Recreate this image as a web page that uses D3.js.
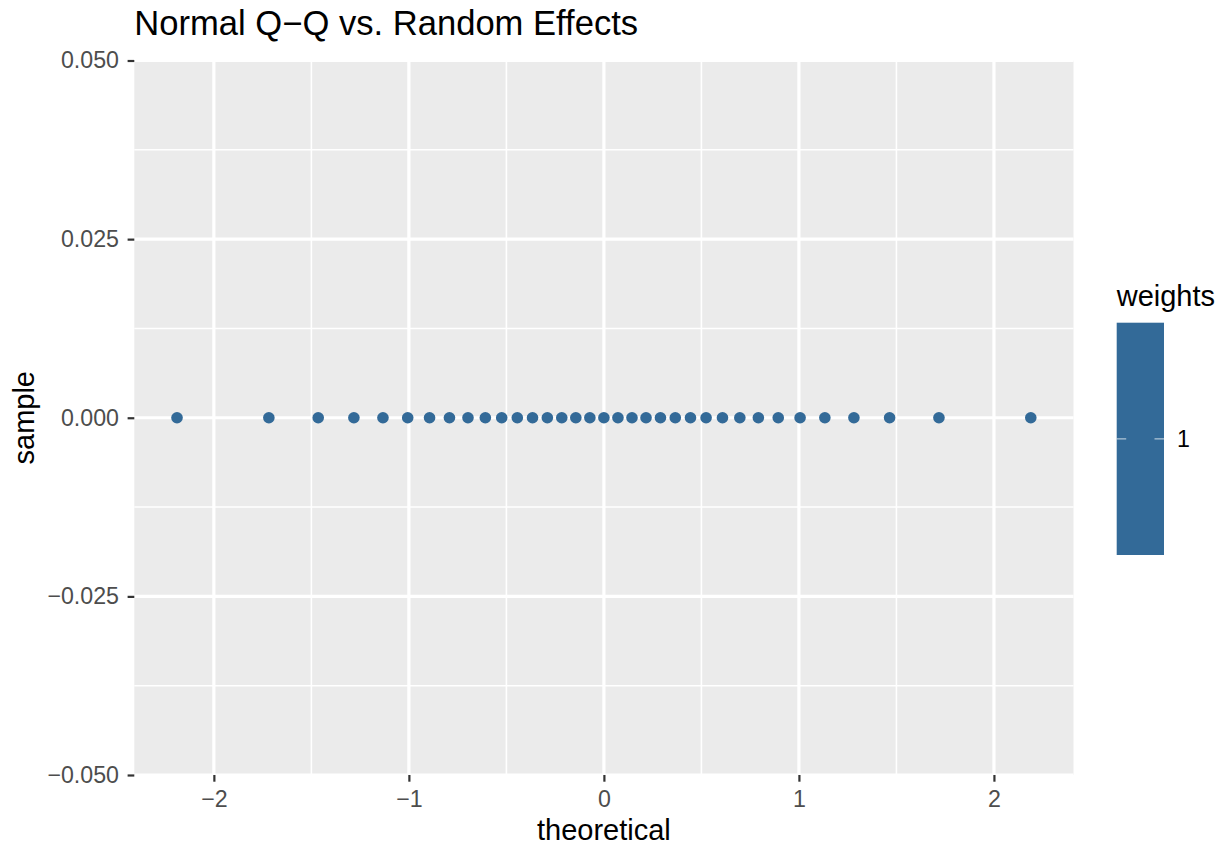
<!DOCTYPE html>
<html lang="en">
<head>
<meta charset="UTF-8">
<title>Normal Q-Q vs. Random Effects</title>
<script src="https://d3js.org/d3.v7.min.js"></script>
<style>
    body { margin: 0; background: white; }
    svg { display: block; font-family: "Liberation Sans", Arial, sans-serif; }
</style>
</head>
<body>
<svg id="chart" width="1225" height="851"></svg>
<script>
// theoretical quantiles (35 random effects), sample values all zero
const theoretical = [-2.189, -1.718, -1.465, -1.282, -1.133, -1.006, -0.894, -0.792, -0.697,
    -0.608, -0.524, -0.444, -0.366, -0.290, -0.216, -0.144, -0.072, 0,
    0.072, 0.144, 0.216, 0.290, 0.366, 0.444, 0.524, 0.608, 0.697, 0.792, 0.894, 1.006,
    1.133, 1.282, 1.465, 1.718, 2.189];
const sample = [0, 0, 0, 0, 0, 0, 0, 0, 0, 0, 0, 0, 0, 0, 0, 0, 0, 0,
    0, 0, 0, 0, 0, 0, 0, 0, 0, 0, 0, 0, 0, 0, 0, 0, 0];
const xTicks = [-2, -1, 0, 1, 2];
const xMinor = [-1.5, -0.5, 0.5, 1.5];
const yTicks = [-0.05, -0.025, 0, 0.025, 0.05];
const yMinor = [-0.0375, -0.0125, 0.0125, 0.0375];
const legendTitle = "weights";
const legendLabels = ["1"];

const panel = { left: 134.3, right: 1073.5, top: 60.5, bottom: 775 };
const pointColor = "#336A98";

const svg = d3.select("#chart");

const x = d3.scaleLinear().domain([-2.408, 2.408]).range([panel.left, panel.right]);
const y = d3.scaleLinear().domain([-0.05, 0.05]).range([panel.bottom, panel.top]);

// panel background
svg.append("rect")
    .attr("x", panel.left).attr("y", panel.top)
    .attr("width", panel.right - panel.left).attr("height", panel.bottom - panel.top)
    .attr("fill", "#EBEBEB");

// minor grid
svg.append("g").selectAll("line").data(xMinor).join("line")
    .attr("x1", d => x(d)).attr("x2", d => x(d))
    .attr("y1", panel.top).attr("y2", panel.bottom)
    .attr("stroke", "white").attr("stroke-width", 1.6);
svg.append("g").selectAll("line").data(yMinor).join("line")
    .attr("y1", d => y(d)).attr("y2", d => y(d))
    .attr("x1", panel.left).attr("x2", panel.right)
    .attr("stroke", "white").attr("stroke-width", 1.6);

// major grid
svg.append("g").selectAll("line").data(xTicks).join("line")
    .attr("x1", d => x(d)).attr("x2", d => x(d))
    .attr("y1", panel.top).attr("y2", panel.bottom)
    .attr("stroke", "white").attr("stroke-width", 3.2);
svg.append("g").selectAll("line").data(yTicks).join("line")
    .attr("y1", d => y(d)).attr("y2", d => y(d))
    .attr("x1", panel.left).attr("x2", panel.right)
    .attr("stroke", "white").attr("stroke-width", 3.2);

// points
svg.append("g").selectAll("circle").data(theoretical).join("circle")
    .attr("cx", d => x(d))
    .attr("cy", (d, i) => y(sample[i]))
    .attr("r", 5.8)
    .attr("fill", pointColor);

// axes
const minus = s => s.replace("-", "\u2212");
const xAxis = svg.append("g")
    .attr("transform", `translate(0,${panel.bottom})`)
    .call(d3.axisBottom(x).tickValues(xTicks).tickSize(6.7).tickPadding(8.4).tickFormat(d => minus(d3.format("d")(d))));
const yAxis = svg.append("g")
    .attr("transform", `translate(${panel.left},0)`)
    .call(d3.axisLeft(y).tickValues(yTicks).tickSize(6.7).tickPadding(8.6).tickFormat(d => minus(d3.format(".3f")(d))));

[xAxis, yAxis].forEach(a => {
    a.select(".domain").remove();
    a.selectAll(".tick line").attr("stroke", "#333333").attr("stroke-width", 2.2);
    a.selectAll(".tick text").attr("fill", "#4D4D4D").attr("font-size", 23.2)
        .attr("font-family", "Liberation Sans, Arial, sans-serif");
});

// title and axis titles
svg.append("text")
    .attr("x", panel.left).attr("y", 35)
    .attr("font-size", 34.6).attr("fill", "black")
    .text("Normal Q\u2212Q vs. Random Effects");

svg.append("text")
    .attr("x", (panel.left + panel.right) / 2).attr("y", 840)
    .attr("text-anchor", "middle")
    .attr("font-size", 29).attr("fill", "black")
    .text("theoretical");

svg.append("text")
    .attr("transform", `translate(34,${(panel.top + panel.bottom) / 2}) rotate(-90)`)
    .attr("text-anchor", "middle")
    .attr("font-size", 29).attr("fill", "black")
    .text("sample");

// legend colourbar
const legend = svg.append("g").attr("transform", "translate(1116.7,0)");
legend.append("text")
    .attr("x", 0).attr("y", 306)
    .attr("font-size", 29).attr("fill", "black")
    .text(legendTitle);

const barTop = 322.7, barH = 232.3, barW = 47.3;
const ly = d3.scalePoint().domain(legendLabels).range([barTop, barTop + barH]).padding(0.5);
legend.append("rect")
    .attr("x", 0).attr("y", barTop).attr("width", barW).attr("height", barH)
    .attr("fill", pointColor);
legend.selectAll(".ltick-l").data(legendLabels).join("line")
    .attr("x1", 0).attr("x2", 9.5)
    .attr("y1", d => ly(d)).attr("y2", d => ly(d))
    .attr("stroke", "white").attr("stroke-opacity", 0.55).attr("stroke-width", 1.4);
legend.selectAll(".ltick-r").data(legendLabels).join("line")
    .attr("x1", barW - 9.5).attr("x2", barW)
    .attr("y1", d => ly(d)).attr("y2", d => ly(d))
    .attr("stroke", "white").attr("stroke-opacity", 0.55).attr("stroke-width", 1.4);
legend.selectAll(".llab").data(legendLabels).join("text")
    .attr("x", barW + 13).attr("y", d => ly(d))
    .attr("dy", "0.35em")
    .attr("font-size", 23.2).attr("fill", "black")
    .text(d => d);
</script>
</body>
</html>
